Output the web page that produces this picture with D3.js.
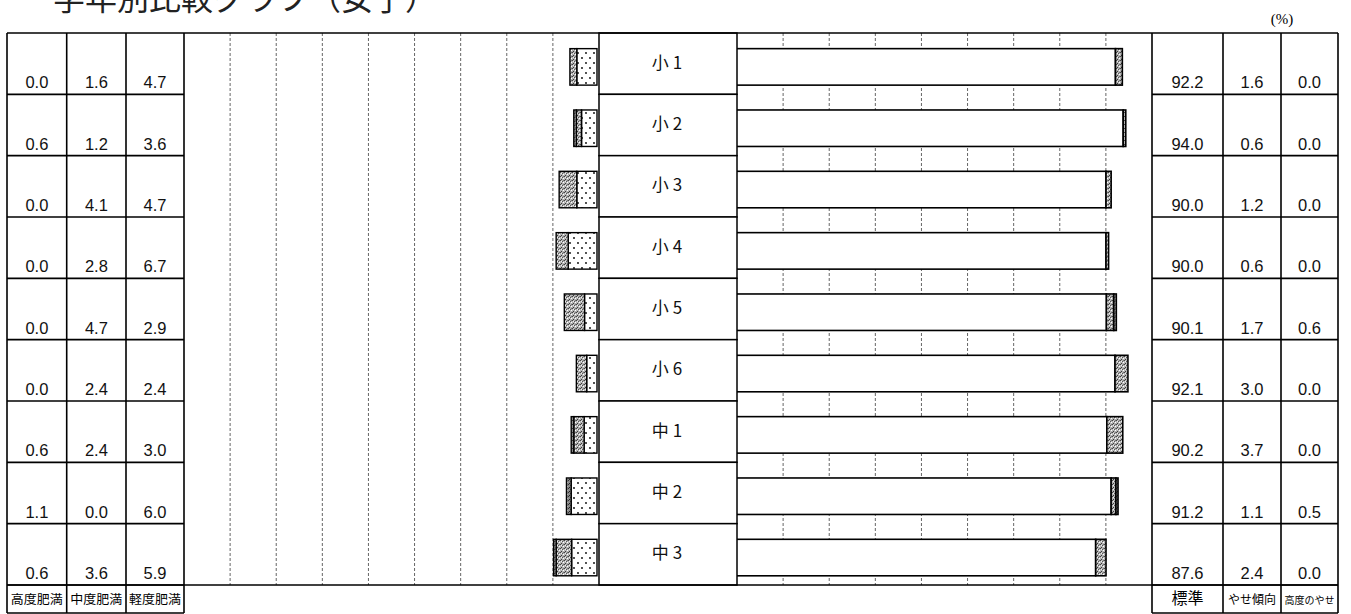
<!DOCTYPE html>
<html><head><meta charset="utf-8">
<script src="https://cdn.jsdelivr.net/npm/d3@7/dist/d3.min.js"></script>
<style>body{margin:0;background:#fff}svg{display:block}</style>
</head><body>
<svg id="c" width="1351" height="614"></svg>
<script>
const categories = ["小1","小2","小3","小4","小5","小6","中1","中2","中3"];
const severeObese = [0.0,0.6,0.0,0.0,0.0,0.0,0.6,1.1,0.6];   // 高度肥満
const moderateObese = [1.6,1.2,4.1,2.8,4.7,2.4,2.4,0.0,3.6]; // 中度肥満
const mildObese = [4.7,3.6,4.7,6.7,2.9,2.4,3.0,6.0,5.9];     // 軽度肥満
const standard = [92.2,94.0,90.0,90.0,90.1,92.1,90.2,91.2,87.6]; // 標準
const thinTrend = [1.6,0.6,1.2,0.6,1.7,3.0,3.7,1.1,2.4];     // やせ傾向
const severeThin = [0.0,0.0,0.0,0.0,0.6,0.0,0.0,0.5,0.0];    // 高度のやせ
const leftHeaders = ["高度肥満","中度肥満","軽度肥満"];
const rightHeaders = ["標準","やせ傾向","高度のやせ"];
const title = "学年別比較グラフ（女子）";
const unitLabel = "(%)";

(function(){
const svg = d3.select("#c");
const defs = svg.append("defs");
const p1 = defs.append("pattern").attr("id","stip").attr("width",4).attr("height",4).attr("patternUnits","userSpaceOnUse");
p1.append("rect").attr("width",4).attr("height",4).attr("fill","#b4b4b4");
[[0,0,"#444"],[2,1,"#555"],[1,3,"#3a3a3a"],[3,2,"#fff"],[1,1,"#eee"],[3,0,"#777"]].forEach(d=>p1.append("rect").attr("x",d[0]).attr("y",d[1]).attr("width",1).attr("height",1).attr("fill",d[2]));
const p2 = defs.append("pattern").attr("id","dark").attr("width",4).attr("height",4).attr("patternUnits","userSpaceOnUse");
p2.append("rect").attr("width",4).attr("height",4).attr("fill","#8a8a8a");
[[0,0,"#333"],[2,1,"#444"],[1,3,"#222"],[3,2,"#ccc"]].forEach(d=>p2.append("rect").attr("x",d[0]).attr("y",d[1]).attr("width",1).attr("height",1).attr("fill",d[2]));
const p3 = defs.append("pattern").attr("id","dots").attr("width",8).attr("height",10).attr("patternUnits","userSpaceOnUse");
p3.append("rect").attr("width",8).attr("height",10).attr("fill","#fff");
p3.append("circle").attr("cx",2).attr("cy",3).attr("r",0.9).attr("fill","#000");
p3.append("circle").attr("cx",6).attr("cy",8).attr("r",0.9).attr("fill","#000");

const topY = 33, bottomY = 585, labelBottom = 613;
const y = d3.scaleBand().domain(categories).range([topY, bottomY]);
const xL = d3.scaleLinear().domain([0,100]).range([597, 167]);
const xR = d3.scaleLinear().domain([0,100]).range([719, 1149]);

const leftCols = [7, 66.7, 126, 184];
const rightCols = [1152, 1223, 1281, 1338];
const boxL = 599, boxR = 737;
const gridStep = (boxL - leftCols[3]) / 9;

const gl = svg.append("g");
for (let i = 1; i < 9; i++) {
  [leftCols[3] + i*gridStep, boxR + i*gridStep].forEach(gx =>
    gl.append("line").attr("x1",gx).attr("x2",gx).attr("y1",topY).attr("y2",bottomY)
      .attr("stroke","#666").attr("stroke-width",1).attr("stroke-dasharray","3,2"));
}

const bandY = c => y(c) + y.bandwidth()*0.255;
const bandH = y.bandwidth()*0.595;

const lg = svg.append("g").attr("stroke","#000").attr("stroke-width",1.4);
categories.forEach((c,i) => {
  const segs = [[mildObese[i],"url(#dots)"],[moderateObese[i],"url(#stip)"],[severeObese[i],"url(#dark)"]];
  let acc = 0;
  segs.forEach(([v,f]) => {
    if (v > 0) lg.append("rect").attr("x",xL(acc+v)).attr("y",bandY(c)).attr("width",xL(acc)-xL(acc+v)).attr("height",bandH).attr("fill",f);
    acc += v;
  });
});

const rg = svg.append("g").attr("stroke","#000").attr("stroke-width",1.6);
categories.forEach((c,i) => {
  const segs = [[standard[i],"#fff"],[thinTrend[i],"url(#stip)"],[severeThin[i],"url(#dark)"]];
  let acc = 0;
  segs.forEach(([v,f]) => {
    if (v > 0) rg.append("rect").attr("x",xR(acc)).attr("y",bandY(c)).attr("width",xR(acc+v)-xR(acc)).attr("height",bandH).attr("fill",f);
    acc += v;
  });
});

const bg = svg.append("g");
categories.forEach(c => {
  bg.append("rect").attr("x",boxL).attr("y",y(c)).attr("width",boxR-boxL).attr("height",y.bandwidth())
    .attr("fill","#fff").attr("stroke","#000").attr("stroke-width",1.5);
  bg.append("text").attr("x",(boxL+boxR)/2+1).attr("y",y(c)+y.bandwidth()/2+5).attr("text-anchor","middle")
    .attr("font-family","Noto Sans CJK JP").attr("font-size",17).attr("letter-spacing",4).attr("fill","#111").text(c);
});

const fg = svg.append("g").attr("stroke","#000").attr("stroke-width",1.6);
fg.append("line").attr("x1",leftCols[0]).attr("x2",rightCols[3]).attr("y1",topY).attr("y2",topY);
fg.append("line").attr("x1",leftCols[0]).attr("x2",rightCols[3]).attr("y1",bottomY).attr("y2",bottomY);
leftCols.forEach(x => fg.append("line").attr("x1",x).attr("x2",x).attr("y1",topY).attr("y2",labelBottom));
rightCols.forEach(x => fg.append("line").attr("x1",x).attr("x2",x).attr("y1",topY).attr("y2",labelBottom));
fg.append("line").attr("x1",leftCols[0]).attr("x2",leftCols[3]).attr("y1",labelBottom).attr("y2",labelBottom);
fg.append("line").attr("x1",rightCols[0]).attr("x2",rightCols[3]).attr("y1",labelBottom).attr("y2",labelBottom);
categories.forEach(c => {
  const yb = y(c)+y.bandwidth();
  fg.append("line").attr("x1",leftCols[0]).attr("x2",leftCols[3]).attr("y1",yb).attr("y2",yb);
  fg.append("line").attr("x1",rightCols[0]).attr("x2",rightCols[3]).attr("y1",yb).attr("y2",yb);
});

const tg = svg.append("g").attr("font-family","Liberation Sans, Arial").attr("font-size",16.5).attr("text-anchor","middle").attr("fill","#111");
const leftSeries = [severeObese, moderateObese, mildObese];
const rightSeries = [standard, thinTrend, severeThin];
categories.forEach((c,i) => {
  const yb = y(c)+y.bandwidth()-6;
  leftSeries.forEach((s,j) => tg.append("text").attr("x",(leftCols[j]+leftCols[j+1])/2).attr("y",yb).text(s[i].toFixed(1)));
  rightSeries.forEach((s,j) => tg.append("text").attr("x",(rightCols[j]+rightCols[j+1])/2).attr("y",yb).text(s[i].toFixed(1)));
});

leftHeaders.forEach((h,j) => svg.append("text").attr("x",(leftCols[j]+leftCols[j+1])/2).attr("y",604)
  .attr("text-anchor","middle").attr("font-family","Noto Sans CJK JP").attr("font-size",12.5)
  .attr("textLength",52).attr("lengthAdjust","spacingAndGlyphs").text(h));
const rSizes = [16, 12, 10];
rightHeaders.forEach((h,j) => svg.append("text").attr("x",(rightCols[j]+rightCols[j+1])/2).attr("y",604)
  .attr("text-anchor","middle").attr("font-family","Noto Sans CJK JP").attr("font-size",rSizes[j]).text(h));

svg.append("text").attr("x",53).attr("y",10).attr("font-family","Noto Sans CJK JP").attr("font-size",32)
  .attr("textLength",384).attr("lengthAdjust","spacingAndGlyphs").attr("fill","#222").text(title);
svg.append("text").attr("x",1282).attr("y",24).attr("text-anchor","middle").attr("font-family","Liberation Serif").attr("font-size",15).text(unitLabel);
})();
</script>
</body></html>
